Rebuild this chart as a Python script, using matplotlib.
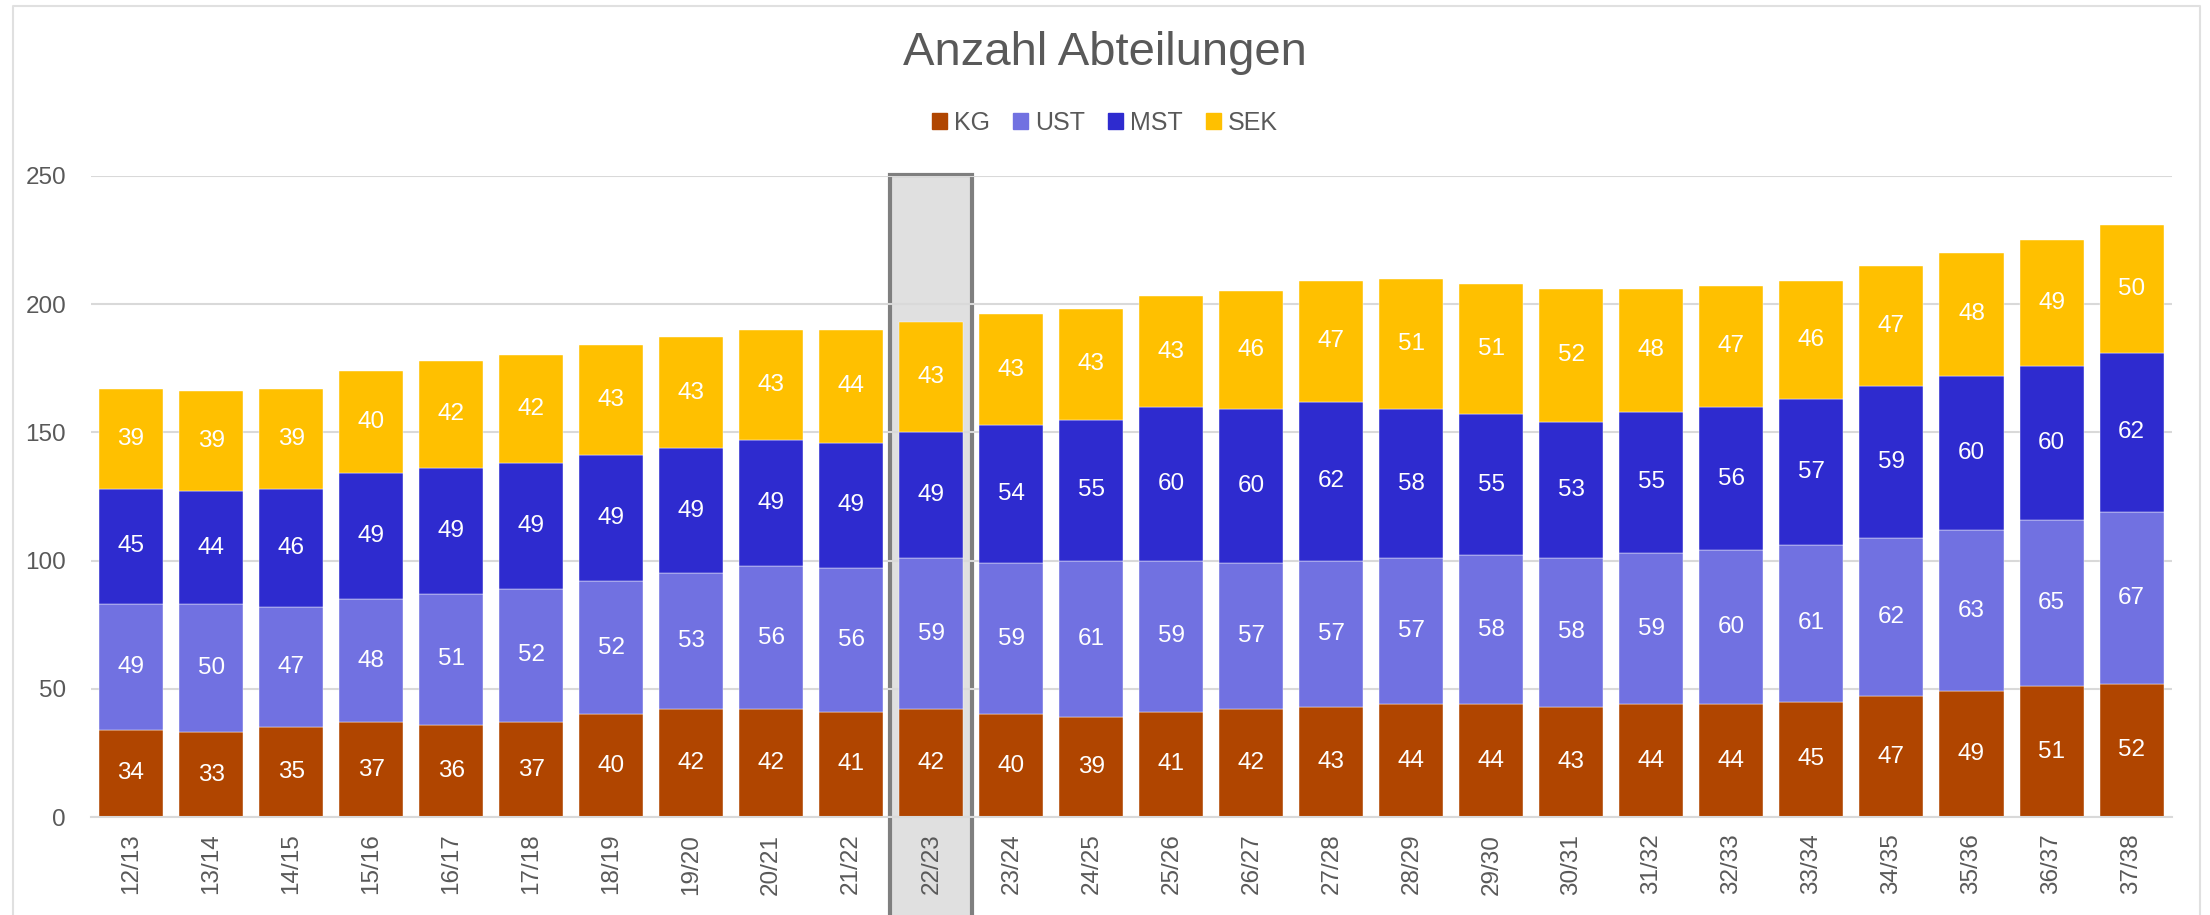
"""Anzahl Abteilungen: stacked bars per school year."""

import matplotlib.pyplot as plt
import numpy as np
from matplotlib.patches import Patch, Rectangle

plt.rcParams["font.family"] = ["Liberation Sans", "DejaVu Sans"]

YEARS = [
    "12/13", "13/14", "14/15", "15/16", "16/17", "17/18", "18/19", "19/20",
    "20/21", "21/22", "22/23", "23/24", "24/25", "25/26", "26/27", "27/28",
    "28/29", "29/30", "30/31", "31/32", "32/33", "33/34", "34/35", "35/36",
    "36/37", "37/38",
]
KG = [34, 33, 35, 37, 36, 37, 40, 42, 42, 41, 42, 40, 39, 41, 42, 43, 44, 44,
      43, 44, 44, 45, 47, 49, 51, 52]
UST = [49, 50, 47, 48, 51, 52, 52, 53, 56, 56, 59, 59, 61, 59, 57, 57, 57, 58,
       58, 59, 60, 61, 62, 63, 65, 67]
MST = [45, 44, 46, 49, 49, 49, 49, 49, 49, 49, 49, 54, 55, 60, 60, 62, 58, 55,
       53, 55, 56, 57, 59, 60, 60, 62]
SEK = [39, 39, 39, 40, 42, 42, 43, 43, 43, 44, 43, 43, 43, 43, 46, 47, 51, 51,
       52, 48, 47, 46, 47, 48, 49, 50]
SERIES = ["KG", "UST", "MST", "SEK"]
HIGHLIGHT = "22/23"

COLORS = {
    "KG": "#B04500",
    "UST": "#7171E1",
    "MST": "#2E2BCF",
    "SEK": "#FFC000",
}
TEXT = "#595959"


def main():
    fig = plt.figure(figsize=(22.1, 9.15), dpi=100)
    ax = fig.add_axes([0.0412, 0.1071, 0.9414, 0.7006])

    x = np.arange(len(YEARS))
    bottom = np.zeros(len(YEARS))
    for name, values in zip(SERIES, [KG, UST, MST, SEK]):
        values = np.array(values, dtype=float)
        bars = ax.bar(x, values, width=0.8, bottom=bottom, color=COLORS[name],
                      edgecolor="white", linewidth=0.3, zorder=2)
        ax.bar_label(bars, labels=[str(int(v)) for v in values],
                     label_type="center", color="white", fontsize=17.5)
        bottom += values

    # highlighted current year
    idx = YEARS.index(HIGHLIGHT)
    ax.add_patch(Rectangle((idx - 0.51, -60), 1.02, 310.5, facecolor="#E0E0E0",
                           edgecolor="#7F7F7F", linewidth=3, zorder=0.3,
                           clip_on=False))

    ax.set_xlim(-0.5, len(YEARS) - 0.5)
    ax.set_ylim(0, 250)
    ax.set_yticks(range(0, 251, 50))
    ax.set_xticks(x)
    ax.set_xticklabels(YEARS, rotation=90)
    ax.tick_params(axis="both", length=0, labelsize=17.5, labelcolor=TEXT)
    ax.tick_params(axis="x", pad=12)
    ax.tick_params(axis="y", pad=18)
    ax.grid(axis="y", color="#D9D9D9", linewidth=1.5)
    ax.set_axisbelow(True)
    for side in ["top", "right", "left"]:
        ax.spines[side].set_visible(False)
    ax.spines["bottom"].set_color("#D9D9D9")
    ax.spines["bottom"].set_linewidth(1.5)

    fig.text(0.5, 0.942, "Anzahl Abteilungen", ha="center", va="center",
             fontsize=34, color=TEXT)
    handles = [Patch(color=COLORS[n], label=n) for n in SERIES]
    fig.legend(handles=handles, loc="center", bbox_to_anchor=(0.5, 0.8656),
               ncol=4, frameon=False, fontsize=18, labelcolor=TEXT,
               handlelength=0.6, handleheight=0.6, handletextpad=0.3,
               columnspacing=0.9)

    # chart frame
    fig.add_artist(plt.Line2D([0.006, 0.006, 0.9955, 0.9955],
                              [0, 0.9935, 0.9935, 0], color="#E0E0E0",
                              linewidth=1.5))

    fig.savefig("out.png", dpi=100)


if __name__ == "__main__":
    main()
